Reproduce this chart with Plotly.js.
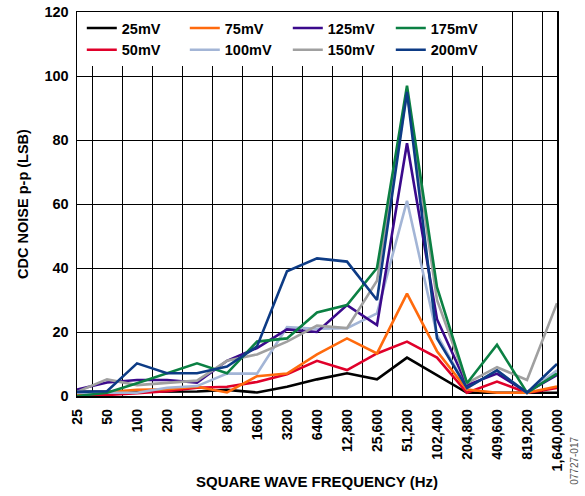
<!DOCTYPE html>
<html>
<head>
<meta charset="utf-8">
<script src="https://cdn.plot.ly/plotly-3.0.1.min.js"></script>
<style>html,body{margin:0;padding:0;background:#fff;}#chart{width:585px;height:496px;}</style>
</head>
<body>
<div id="chart"></div>
<script>
var categories = ["25","50","100","200","400","800","1600","3200","6400","12,800","25,600","51,200","102,400","204,800","409,600","819,200","1,640,000"];
var mv25  = [1.3, 1.3, 1.3, 1.3, 1.4, 1.9, 1.1, 2.9, 5.2, 7.1, 5.2, 12, 6.5, 1, 1, 1, 1];
var mv50  = [0.5, 0.3, 0.9, 1.5, 2.6, 2.9, 4.4, 6.8, 11, 8.1, 13.3, 17, 12, 1, 4.5, 1, 2.5];
var mv75  = [0.5, 1.2, 1.9, 2.1, 2.9, 1.1, 6.2, 7, 13, 18, 13.3, 32, 14, 2, 1, 1, 3];
var mv100 = [1, 1, 1, 2.6, 3.1, 7, 7, 21.5, 21, 21.2, 25.8, 61, 19, 2.5, 8, 1, 8];
var mv125 = [2, 4.2, 5, 5, 4.2, 11, 15, 20.8, 20, 28.4, 22.2, 79, 24, 3.4, 7, 1.2, 6.6];
var mv150 = [1.3, 5.2, 3.4, 4.2, 4.8, 11, 13, 17, 22, 21.2, 36, 95, 30, 4, 9, 5, 29];
var mv175 = [0, 1, 4, 7, 10.2, 7.1, 17, 18, 26.1, 28.4, 40, 97, 34, 4, 16, 1, 7];
var mv200 = [1.3, 1.5, 10.2, 7.1, 7.1, 9.2, 15.5, 39, 43, 42, 30, 95, 18, 2.5, 8, 1, 10];

var names  = ["25mV","50mV","75mV","100mV","125mV","150mV","175mV","200mV"];
var series = [mv25, mv50, mv75, mv100, mv125, mv150, mv175, mv200];
var colors = ["#000000","#e0002a","#ff6a0d","#a3b5d6","#3b0a8c","#a0a0a0","#0b8043","#0d3b85"];
var ranks  = [1, 5, 2, 6, 3, 7, 4, 8];

var traces = series.map(function(s, i){
  return {
    type: "scatter", mode: "lines", x: categories, y: s, name: names[i],
    line: {color: colors[i], width: 2.6}, legendrank: ranks[i]
  };
});

var fam = "Liberation Sans, Arial, sans-serif";

var layout = {
  width: 585, height: 496,
  margin: {l: 77, r: 28, t: 12, b: 100},
  paper_bgcolor: "#fff", plot_bgcolor: "#fff",
  showlegend: true,
  legend: {
    orientation: "h", x: 0.01, y: 1.0, xanchor: "left", yanchor: "top",
    bgcolor: "#fff", entrywidth: 58, entrywidthmode: "pixels",
    font: {family: fam, size: 14.5, color: "#000", weight: "bold"},
    itemwidth: 30, tracegroupgap: 0
  },
  xaxis: {
    type: "category", tickson: "boundaries", showgrid: true, gridcolor: "#000", gridwidth: 1,
    showline: true, linecolor: "#000", linewidth: 1.5, mirror: true,
    ticks: "", tickangle: -90, ticklabelstandoff: 6,
    tickfont: {family: fam, size: 14, color: "#000", weight: "bold"},
    title: {text: "SQUARE WAVE FREQUENCY (Hz)", font: {family: fam, size: 15, color: "#000", weight: "bold"}, standoff: 6},
    zeroline: false, fixedrange: true
  },
  yaxis: {
    range: [0, 120], dtick: 20, showgrid: true, gridcolor: "#000", gridwidth: 1,
    showline: true, linecolor: "#000", linewidth: 1.5, mirror: true,
    ticks: "", zeroline: false, ticklabelstandoff: 4,
    tickfont: {family: fam, size: 14.5, color: "#000", weight: "bold"},
    title: {text: "CDC NOISE p-p (LSB)", font: {family: fam, size: 14.5, color: "#000", weight: "bold"}, standoff: 12}
  },
  annotations: [{
    text: "07727-017", xref: "paper", yref: "paper", x: 1, y: -0.17, xanchor: "left", yanchor: "middle",
    xshift: 10, textangle: -90, showarrow: false,
    font: {family: fam, size: 10, color: "#555"}
  }]
};

Plotly.newPlot("chart", traces, layout, {displayModeBar: false, staticPlot: true});
</script>
</body>
</html>
